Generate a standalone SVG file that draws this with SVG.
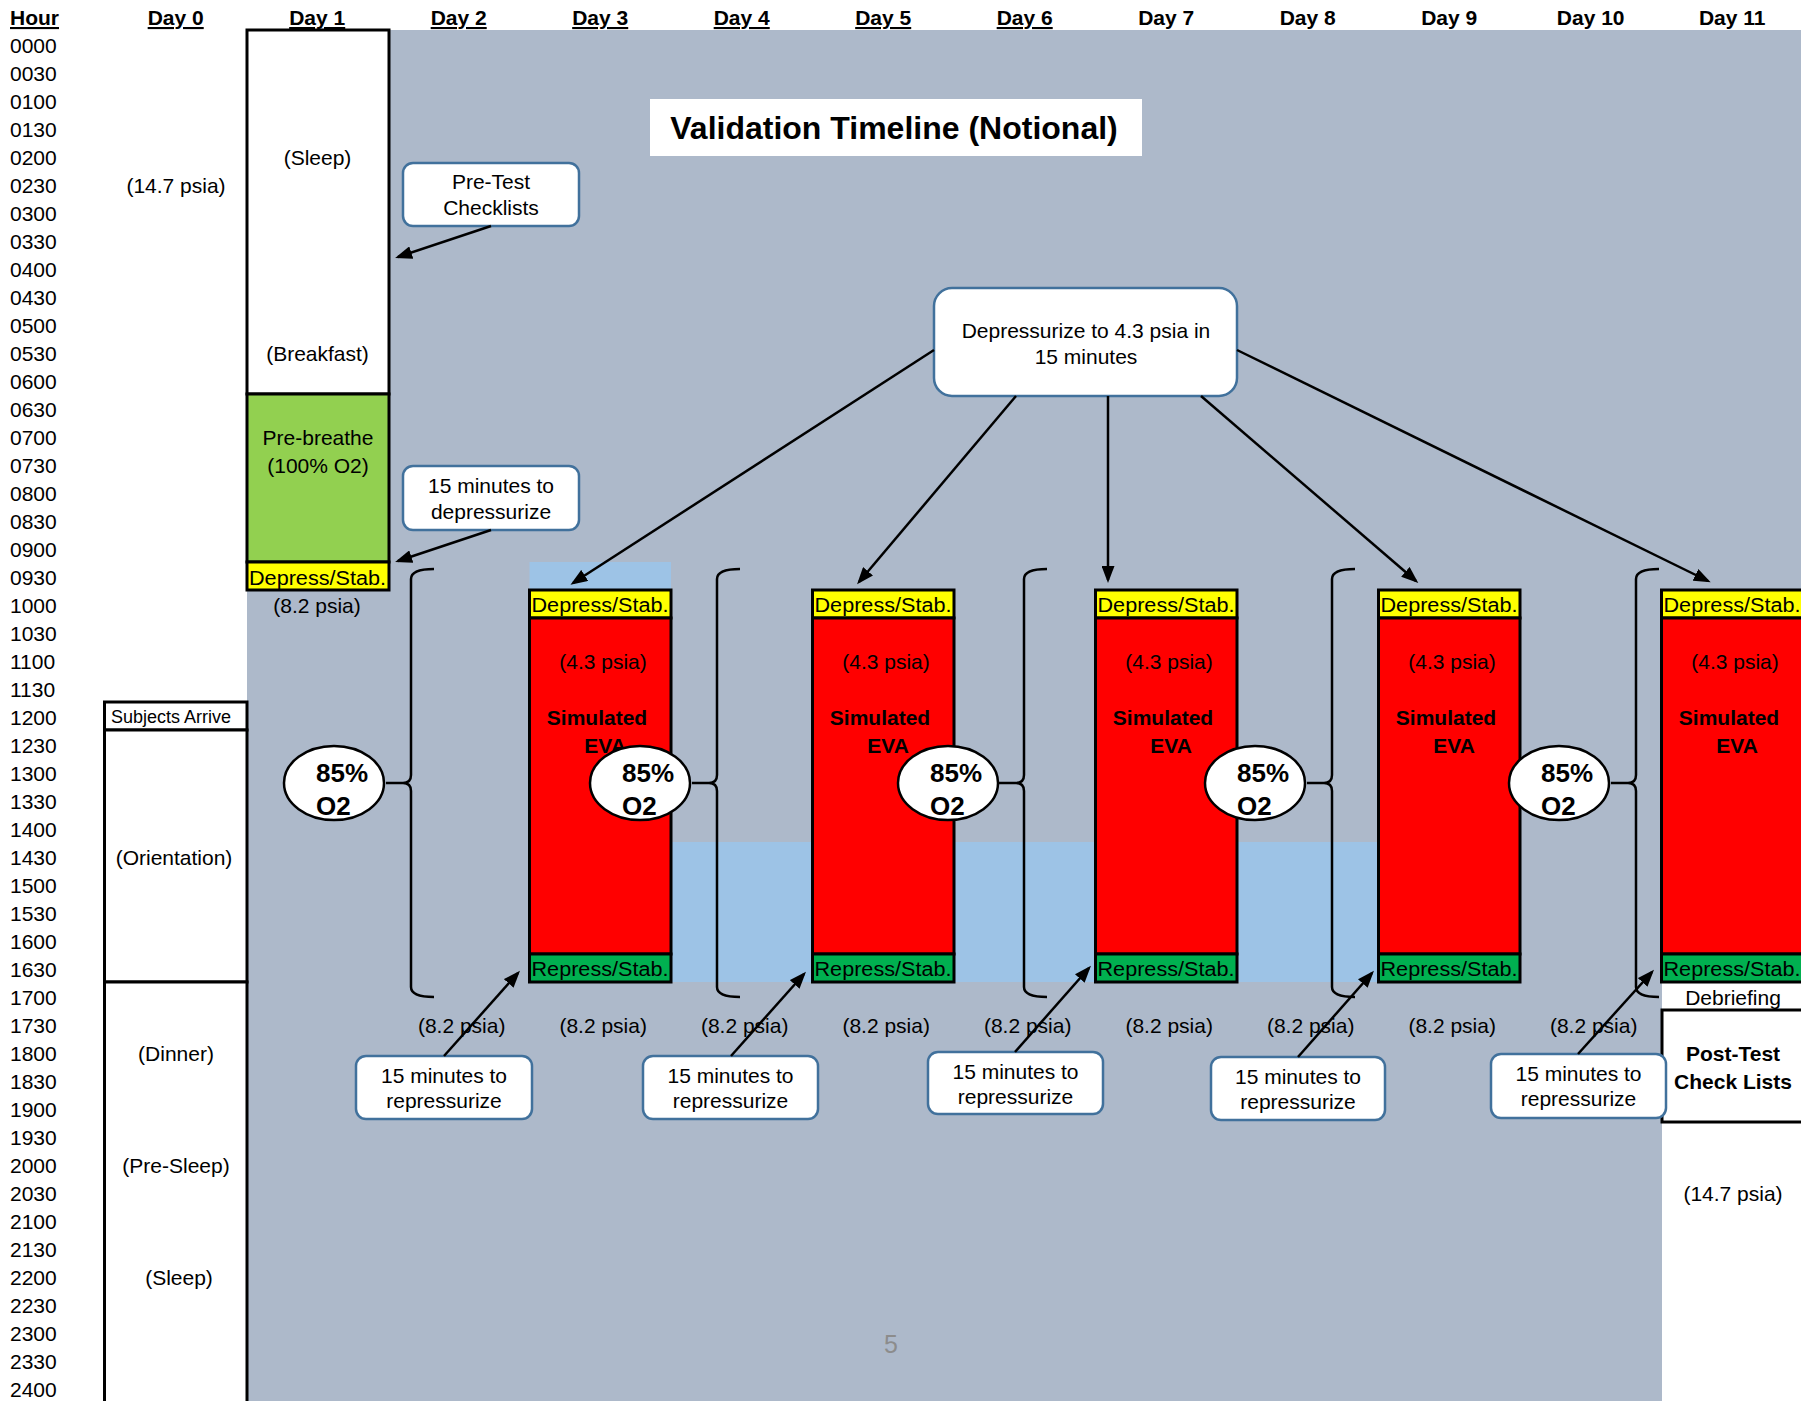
<svg xmlns="http://www.w3.org/2000/svg" width="1801" height="1401" viewBox="0 0 1801 1401">
<style>
.t{font-family:"Liberation Sans",Arial,sans-serif;font-size:21px;fill:#000}
.b{font-weight:bold}
.c{text-anchor:middle}
.u{text-decoration:underline}
.s18{font-size:18px}
.s20{font-size:20px}
.ttl{font-size:32px}
.pg{font-size:25px;fill:#8c8c8c}
.cb{fill:#fff;stroke:#41719C;stroke-width:2.5}
.blk{stroke:#000;stroke-width:3}
.wh{fill:#fff}
.yl{fill:#FFFF00}
.rd{fill:#FF0000}
.gr{fill:#00B050}
.lg{fill:#92D050}
.lb{fill:#9DC3E6}
.ell{fill:#fff;stroke:#000;stroke-width:2.5}
.o2{font-size:26px;font-weight:bold}
.brace{stroke:#000;stroke-width:2.5;fill:none}
.conn{stroke:#000;stroke-width:2.5;fill:none;marker-end:url(#ah)}
</style>
<defs>
<marker id="ah" markerWidth="17" markerHeight="13" refX="14" refY="6.5" orient="auto" markerUnits="userSpaceOnUse">
<path d="M0,0 L17,6.5 L0,13 Z" fill="#000"/>
</marker>
</defs>

<rect x="0" y="0" width="1801" height="1401" fill="#fff"/>
<g id="background">
<rect x="247" y="30" width="1554" height="1371" fill="#ADB9CA"/>
<rect x="1662" y="982" width="139" height="419" fill="#fff"/>
<rect class="lb" x="529.5" y="562" width="141.5" height="28"/>
<rect class="lb" x="671" y="842" width="707.5" height="140"/>
</g>

<g id="headers">
<text class="t b u" x="10" y="25">Hour</text>
<text class="t b u c" x="175.7" y="25">Day 0</text>
<text class="t b u c" x="317.2" y="25">Day 1</text>
<text class="t b u c" x="458.7" y="25">Day 2</text>
<text class="t b u c" x="600.2" y="25">Day 3</text>
<text class="t b u c" x="741.7" y="25">Day 4</text>
<text class="t b u c" x="883.2" y="25">Day 5</text>
<text class="t b u c" x="1024.7" y="25">Day 6</text>
<text class="t b c" x="1166.2" y="25">Day 7</text>
<text class="t b c" x="1307.7" y="25">Day 8</text>
<text class="t b c" x="1449.2" y="25">Day 9</text>
<text class="t b c" x="1590.7" y="25">Day 10</text>
<text class="t b c" x="1732.2" y="25">Day 11</text>
</g>

<g id="hours">
<text class="t"><tspan x="10" y="52.5">0000</tspan><tspan x="10" y="80.5">0030</tspan><tspan x="10" y="108.5">0100</tspan><tspan x="10" y="136.5">0130</tspan><tspan x="10" y="164.5">0200</tspan><tspan x="10" y="192.5">0230</tspan><tspan x="10" y="220.5">0300</tspan><tspan x="10" y="248.5">0330</tspan><tspan x="10" y="276.5">0400</tspan><tspan x="10" y="304.5">0430</tspan><tspan x="10" y="332.5">0500</tspan><tspan x="10" y="360.5">0530</tspan><tspan x="10" y="388.5">0600</tspan><tspan x="10" y="416.5">0630</tspan><tspan x="10" y="444.5">0700</tspan><tspan x="10" y="472.5">0730</tspan><tspan x="10" y="500.5">0800</tspan><tspan x="10" y="528.5">0830</tspan><tspan x="10" y="556.5">0900</tspan><tspan x="10" y="584.5">0930</tspan><tspan x="10" y="612.5">1000</tspan><tspan x="10" y="640.5">1030</tspan><tspan x="10" y="668.5">1100</tspan><tspan x="10" y="696.5">1130</tspan><tspan x="10" y="724.5">1200</tspan><tspan x="10" y="752.5">1230</tspan><tspan x="10" y="780.5">1300</tspan><tspan x="10" y="808.5">1330</tspan><tspan x="10" y="836.5">1400</tspan><tspan x="10" y="864.5">1430</tspan><tspan x="10" y="892.5">1500</tspan><tspan x="10" y="920.5">1530</tspan><tspan x="10" y="948.5">1600</tspan><tspan x="10" y="976.5">1630</tspan><tspan x="10" y="1004.5">1700</tspan><tspan x="10" y="1032.5">1730</tspan><tspan x="10" y="1060.5">1800</tspan><tspan x="10" y="1088.5">1830</tspan><tspan x="10" y="1116.5">1900</tspan><tspan x="10" y="1144.5">1930</tspan><tspan x="10" y="1172.5">2000</tspan><tspan x="10" y="1200.5">2030</tspan><tspan x="10" y="1228.5">2100</tspan><tspan x="10" y="1256.5">2130</tspan><tspan x="10" y="1284.5">2200</tspan><tspan x="10" y="1312.5">2230</tspan><tspan x="10" y="1340.5">2300</tspan><tspan x="10" y="1368.5">2330</tspan><tspan x="10" y="1396.5">2400</tspan></text>
</g>

<g id="day0">
<text class="t c" x="176" y="192.5">(14.7 psia)</text>
<rect class="wh blk" x="104.5" y="702" width="142.5" height="28"/>
<text class="t s18" x="111" y="723">Subjects Arrive</text>
<rect class="wh blk" x="104.5" y="730" width="142.5" height="252"/>
<text class="t c" x="174" y="864.5">(Orientation)</text>
<rect class="wh blk" x="104.5" y="982" width="142.5" height="422"/>
<text class="t c" x="176" y="1060.5">(Dinner)</text>
<text class="t c" x="176" y="1172.5">(Pre-Sleep)</text>
<text class="t c" x="179" y="1284.5">(Sleep)</text>
</g>

<g id="day1">
<rect class="wh blk" x="247" y="30" width="142" height="364"/>
<text class="t c" x="317.5" y="164.5">(Sleep)</text>
<text class="t c" x="317.5" y="360.5">(Breakfast)</text>
<rect class="lg blk" x="247" y="394" width="142" height="168"/>
<text class="t c" x="318" y="444.5">Pre-breathe</text>
<text class="t c" x="318" y="472.5">(100% O2)</text>
<rect class="yl blk" x="247" y="562" width="142" height="28"/>
<text class="t s20" x="249" y="584.5" textLength="137" lengthAdjust="spacingAndGlyphs">Depress/Stab.</text>
<text class="t c" x="317" y="612.5">(8.2 psia)</text>
</g>

<g id="eva-day3">
<rect class="yl blk" x="529.5" y="590" width="141.5" height="28"/>
<text class="t s20" x="531.5" y="611.5" textLength="137" lengthAdjust="spacingAndGlyphs">Depress/Stab.</text>
<rect class="rd blk" x="529.5" y="618" width="141.5" height="336"/>
<text class="t c" x="603" y="668.5">(4.3 psia)</text>
<text class="t b c" x="597" y="724.5">Simulated</text>
<text class="t b c" x="605" y="752.5">EVA</text>
<rect class="gr blk" x="529.5" y="954" width="141.5" height="28"/>
<text class="t s20" x="531.5" y="975.5" textLength="137" lengthAdjust="spacingAndGlyphs">Repress/Stab.</text>
</g>
<g id="eva-day5">
<rect class="yl blk" x="812.5" y="590" width="141.5" height="28"/>
<text class="t s20" x="814.5" y="611.5" textLength="137" lengthAdjust="spacingAndGlyphs">Depress/Stab.</text>
<rect class="rd blk" x="812.5" y="618" width="141.5" height="336"/>
<text class="t c" x="886" y="668.5">(4.3 psia)</text>
<text class="t b c" x="880" y="724.5">Simulated</text>
<text class="t b c" x="888" y="752.5">EVA</text>
<rect class="gr blk" x="812.5" y="954" width="141.5" height="28"/>
<text class="t s20" x="814.5" y="975.5" textLength="137" lengthAdjust="spacingAndGlyphs">Repress/Stab.</text>
</g>
<g id="eva-day7">
<rect class="yl blk" x="1095.5" y="590" width="141.5" height="28"/>
<text class="t s20" x="1097.5" y="611.5" textLength="137" lengthAdjust="spacingAndGlyphs">Depress/Stab.</text>
<rect class="rd blk" x="1095.5" y="618" width="141.5" height="336"/>
<text class="t c" x="1169" y="668.5">(4.3 psia)</text>
<text class="t b c" x="1163" y="724.5">Simulated</text>
<text class="t b c" x="1171" y="752.5">EVA</text>
<rect class="gr blk" x="1095.5" y="954" width="141.5" height="28"/>
<text class="t s20" x="1097.5" y="975.5" textLength="137" lengthAdjust="spacingAndGlyphs">Repress/Stab.</text>
</g>
<g id="eva-day9">
<rect class="yl blk" x="1378.5" y="590" width="141.5" height="28"/>
<text class="t s20" x="1380.5" y="611.5" textLength="137" lengthAdjust="spacingAndGlyphs">Depress/Stab.</text>
<rect class="rd blk" x="1378.5" y="618" width="141.5" height="336"/>
<text class="t c" x="1452" y="668.5">(4.3 psia)</text>
<text class="t b c" x="1446" y="724.5">Simulated</text>
<text class="t b c" x="1454" y="752.5">EVA</text>
<rect class="gr blk" x="1378.5" y="954" width="141.5" height="28"/>
<text class="t s20" x="1380.5" y="975.5" textLength="137" lengthAdjust="spacingAndGlyphs">Repress/Stab.</text>
</g>
<g id="eva-day11">
<rect class="yl blk" x="1661.5" y="590" width="145" height="28"/>
<text class="t s20" x="1663.5" y="611.5" textLength="137" lengthAdjust="spacingAndGlyphs">Depress/Stab.</text>
<rect class="rd blk" x="1661.5" y="618" width="145" height="336"/>
<text class="t c" x="1735" y="668.5">(4.3 psia)</text>
<text class="t b c" x="1729" y="724.5">Simulated</text>
<text class="t b c" x="1737" y="752.5">EVA</text>
<rect class="gr blk" x="1661.5" y="954" width="145" height="28"/>
<text class="t s20" x="1663.5" y="975.5" textLength="137" lengthAdjust="spacingAndGlyphs">Repress/Stab.</text>
</g>

<g id="day11-end">
<text class="t c" x="1733" y="1004.5">Debriefing</text>
<rect class="wh blk" x="1662" y="1010" width="145" height="112"/>
<text class="t b c" x="1733" y="1060.5">Post-Test</text>
<text class="t b c" x="1733" y="1088.5">Check Lists</text>
<text class="t c" x="1733" y="1200.5">(14.7 psia)</text>
</g>

<g id="psia-82">
<text class="t c" x="461.7" y="1032.5">(8.2 psia)</text>
<text class="t c" x="603.2" y="1032.5">(8.2 psia)</text>
<text class="t c" x="744.7" y="1032.5">(8.2 psia)</text>
<text class="t c" x="886.2" y="1032.5">(8.2 psia)</text>
<text class="t c" x="1027.7" y="1032.5">(8.2 psia)</text>
<text class="t c" x="1169.2" y="1032.5">(8.2 psia)</text>
<text class="t c" x="1310.7" y="1032.5">(8.2 psia)</text>
<text class="t c" x="1452.2" y="1032.5">(8.2 psia)</text>
<text class="t c" x="1593.7" y="1032.5">(8.2 psia)</text>
</g>

<g id="title">
<rect x="650" y="99" width="492" height="57" fill="#fff"/>
<text class="t b c ttl" x="894" y="139">Validation Timeline (Notional)</text>
</g>

<g id="braces">
<path class="brace" d="M434,569 Q411,569 411,579 L411,775 Q411,783 403,783 L386,783 M403,783 Q411,783 411,791 L411,987 Q411,997 434,997"/>
<path class="brace" d="M740,569 Q717,569 717,579 L717,775 Q717,783 709,783 L692,783 M709,783 Q717,783 717,791 L717,987 Q717,997 740,997"/>
<path class="brace" d="M1047,569 Q1024,569 1024,579 L1024,775 Q1024,783 1016,783 L999,783 M1016,783 Q1024,783 1024,791 L1024,987 Q1024,997 1047,997"/>
<path class="brace" d="M1355,569 Q1332,569 1332,579 L1332,775 Q1332,783 1324,783 L1307,783 M1324,783 Q1332,783 1332,791 L1332,987 Q1332,997 1355,997"/>
<path class="brace" d="M1659,569 Q1636,569 1636,579 L1636,775 Q1636,783 1628,783 L1611,783 M1628,783 Q1636,783 1636,791 L1636,987 Q1636,997 1659,997"/>
</g>

<g id="o2-1"><ellipse class="ell" cx="334" cy="783" rx="50" ry="37"/><text class="t o2" x="316" y="782">85%</text><text class="t o2" x="316" y="815">O2</text></g>
<g id="o2-2"><ellipse class="ell" cx="640" cy="783" rx="50" ry="37"/><text class="t o2" x="622" y="782">85%</text><text class="t o2" x="622" y="815">O2</text></g>
<g id="o2-3"><ellipse class="ell" cx="948" cy="783" rx="50" ry="37"/><text class="t o2" x="930" y="782">85%</text><text class="t o2" x="930" y="815">O2</text></g>
<g id="o2-4"><ellipse class="ell" cx="1255" cy="783" rx="50" ry="37"/><text class="t o2" x="1237" y="782">85%</text><text class="t o2" x="1237" y="815">O2</text></g>
<g id="o2-5"><ellipse class="ell" cx="1559" cy="783" rx="50" ry="37"/><text class="t o2" x="1541" y="782">85%</text><text class="t o2" x="1541" y="815">O2</text></g>

<g id="callout-pretest">
<rect class="cb" x="403" y="163" width="176" height="63" rx="10"/>
<text class="t c" x="491" y="189">Pre-Test</text>
<text class="t c" x="491" y="215">Checklists</text>
</g>
<g id="callout-depress15">
<rect class="cb" x="403" y="466" width="176" height="64" rx="10"/>
<text class="t c" x="491" y="492.5">15 minutes to</text>
<text class="t c" x="491" y="518.5">depressurize</text>
</g>
<g id="callout-depress43">
<rect class="cb" x="934" y="288" width="303" height="108" rx="18"/>
<text class="t c" x="1086" y="337.5">Depressurize to 4.3 psia in</text>
<text class="t c" x="1086" y="363.5">15 minutes</text>
</g>
<g id="callout-repress1">
<rect class="cb" x="356" y="1056" width="176" height="63" rx="10"/>
<text class="t c" x="444" y="1082.5">15 minutes to</text>
<text class="t c" x="444" y="1107.5">repressurize</text>
</g>
<g id="callout-repress2">
<rect class="cb" x="643" y="1056" width="175" height="63" rx="10"/>
<text class="t c" x="730.5" y="1082.5">15 minutes to</text>
<text class="t c" x="730.5" y="1107.5">repressurize</text>
</g>
<g id="callout-repress3">
<rect class="cb" x="928" y="1052" width="175" height="62" rx="10"/>
<text class="t c" x="1015.5" y="1078.5">15 minutes to</text>
<text class="t c" x="1015.5" y="1103.5">repressurize</text>
</g>
<g id="callout-repress4">
<rect class="cb" x="1211" y="1057" width="174" height="63" rx="10"/>
<text class="t c" x="1298" y="1083.5">15 minutes to</text>
<text class="t c" x="1298" y="1108.5">repressurize</text>
</g>
<g id="callout-repress5">
<rect class="cb" x="1491" y="1054" width="175" height="64" rx="10"/>
<text class="t c" x="1578.5" y="1081">15 minutes to</text>
<text class="t c" x="1578.5" y="1106">repressurize</text>
</g>

<g id="connectors">
<line class="conn" x1="491" y1="226" x2="398" y2="257"/>
<line class="conn" x1="491" y1="530" x2="398" y2="561"/>
<line class="conn" x1="934" y1="350" x2="573" y2="583"/>
<line class="conn" x1="1016" y1="396" x2="859" y2="582"/>
<line class="conn" x1="1108" y1="396" x2="1108" y2="580"/>
<line class="conn" x1="1201" y1="396" x2="1416" y2="581"/>
<line class="conn" x1="1237" y1="350" x2="1708" y2="581"/>
<line class="conn" x1="444" y1="1056" x2="518" y2="973"/>
<line class="conn" x1="731" y1="1056" x2="804" y2="974"/>
<line class="conn" x1="1015" y1="1052" x2="1089" y2="968"/>
<line class="conn" x1="1298" y1="1057" x2="1372" y2="973"/>
<line class="conn" x1="1578" y1="1054" x2="1652" y2="972"/>
</g>

<text class="t c pg" x="891" y="1353">5</text>
</svg>
